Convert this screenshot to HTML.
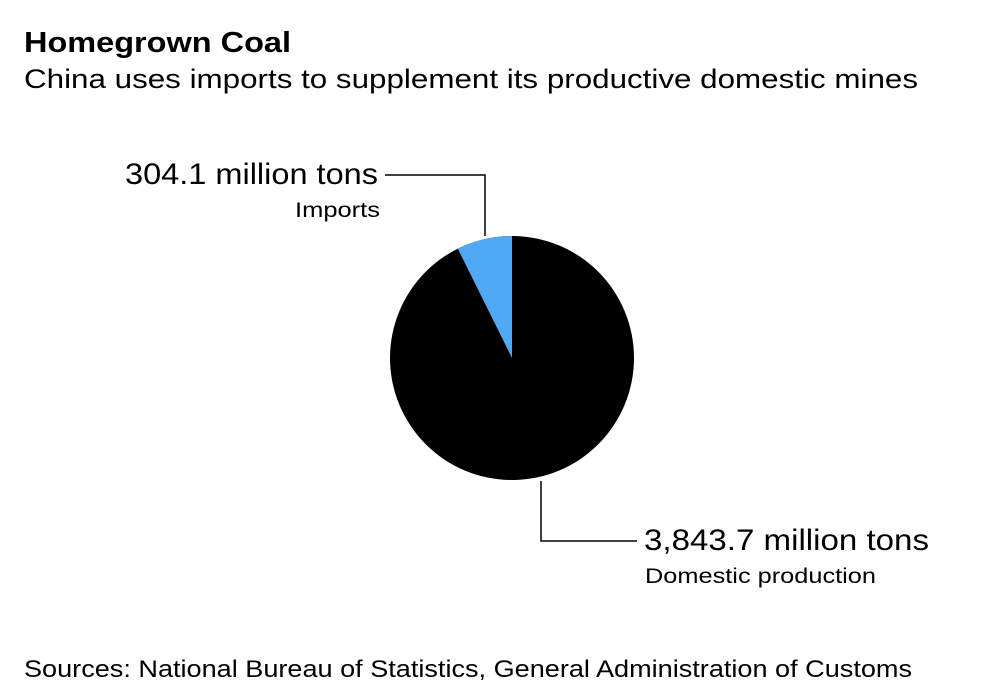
<!DOCTYPE html>
<html><head><meta charset="utf-8"><style>
body{margin:0;background:#fff;width:1001px;height:695px;overflow:hidden;font-family:"Liberation Sans",sans-serif;}
</style></head><body>
<svg width="1001" height="695" xmlns="http://www.w3.org/2000/svg" font-family="Liberation Sans, sans-serif">
<text x="24" y="52" font-size="29" font-weight="bold" fill="#000" textLength="267" lengthAdjust="spacingAndGlyphs">Homegrown Coal</text>
<text x="24" y="88" font-size="27" fill="#000" textLength="894" lengthAdjust="spacingAndGlyphs">China uses imports to supplement its productive domestic mines</text>
<circle cx="512" cy="358" r="122" fill="#000"/>
<path d="M512,358 L512,236 A122,122 0 0 0 457.8,248.7 Z" fill="#4fa9f7"/>
<polyline points="385,175 485,175 485,236" fill="none" stroke="#000" stroke-width="1.5"/>
<polyline points="541,481 541,541 637,541" fill="none" stroke="#000" stroke-width="1.5"/>
<text x="125" y="184" font-size="30" fill="#000" textLength="253" lengthAdjust="spacingAndGlyphs">304.1 million tons</text>
<text x="295" y="217" font-size="21" fill="#000" textLength="85" lengthAdjust="spacingAndGlyphs">Imports</text>
<text x="644" y="550" font-size="30" fill="#000" textLength="285" lengthAdjust="spacingAndGlyphs">3,843.7 million tons</text>
<text x="645" y="583" font-size="21" fill="#000" textLength="231" lengthAdjust="spacingAndGlyphs">Domestic production</text>
<text x="24" y="677" font-size="24" fill="#000" textLength="888" lengthAdjust="spacingAndGlyphs">Sources: National Bureau of Statistics, General Administration of Customs</text>
</svg>
</body></html>
